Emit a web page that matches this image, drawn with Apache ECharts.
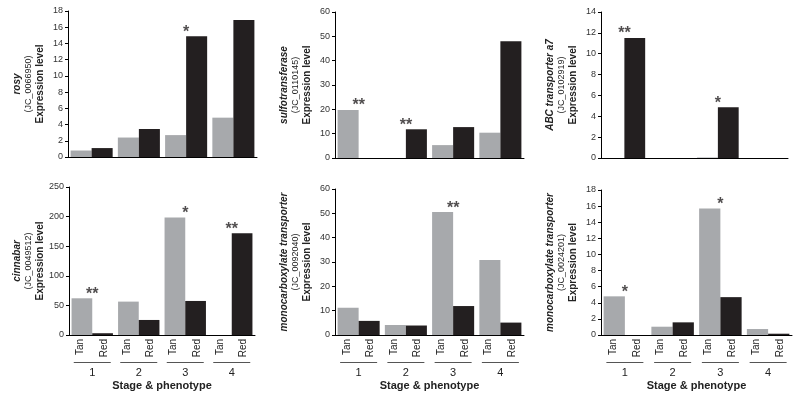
<!DOCTYPE html>
<html>
<head>
<meta charset="utf-8">
<script src="https://cdn.jsdelivr.net/npm/echarts@6/dist/echarts.min.js"></script>
<style>
  html, body { margin: 0; padding: 0; background: #fff; }
  #chart { width: 800px; height: 400px; }
</style>
</head>
<body>
<div id="chart"></div>
<script>
// ---- data ----
const stages = ['1', '2', '3', '4'];
const phenotypes = ['Tan', 'Red', 'Tan', 'Red', 'Tan', 'Red', 'Tan', 'Red'];

const rosyTan = [0.8, 2.4, 2.7, 4.85];
const rosyRed = [1.1, 3.45, 14.9, 16.9];
const rosyStars = ['', '', '*', ''];

const sulfoTan = [19.7, 0, 5.3, 10.4];
const sulfoRed = [0, 11.8, 12.7, 48];
const sulfoStars = ['**', '**', '', ''];

const abcTan = [0, 0, 0.05, 0];
const abcRed = [11.5, 0, 4.86, 0];
const abcStars = ['**', '', '*', ''];

const cinnTan = [62, 56.4, 198.5, 0];
const cinnRed = [3, 25.4, 57.5, 172];
const cinnStars = ['**', '', '*', '**'];

const mctATan = [11.2, 4.1, 50.5, 30.8];
const mctARed = [5.8, 3.9, 11.9, 5.1];
const mctAStars = ['', '', '**', ''];

const mctBTan = [4.8, 1.03, 15.7, 0.74];
const mctBRed = [0, 1.57, 4.7, 0.16];
const mctBStars = ['*', '', '*', ''];

const panels = [
  { gene: 'rosy', id: '(JC_0066950)', tan: rosyTan, red: rosyRed, stars: rosyStars, max: 18, interval: 2, bottom: false,
    grid: { left: 68, top: 11, width: 189, height: 146 } },
  { gene: 'sulfotransferase', id: '(JC_0110145)', tan: sulfoTan, red: sulfoRed, stars: sulfoStars, max: 60, interval: 10, bottom: false,
    grid: { left: 335, top: 12, width: 189, height: 146 } },
  { gene: 'ABC transporter a7', id: '(JC_0102919)', tan: abcTan, red: abcRed, stars: abcStars, max: 14, interval: 2, bottom: false,
    grid: { left: 601, top: 12, width: 187, height: 146 } },
  { gene: 'cinnabar', id: '(JC_0049512)', tan: cinnTan, red: cinnRed, stars: cinnStars, max: 250, interval: 50, bottom: true,
    grid: { left: 69, top: 187, width: 186, height: 148 } },
  { gene: 'monocarboxylate transporter', id: '(JC_0092040)', tan: mctATan, red: mctARed, stars: mctAStars, max: 60, interval: 10, bottom: true,
    grid: { left: 335, top: 189, width: 189, height: 146 } },
  { gene: 'monocarboxylate transporter', id: '(JC_0024201)', tan: mctBTan, red: mctBRed, stars: mctBStars, max: 18, interval: 2, bottom: true,
    grid: { left: 601, top: 190, width: 191, height: 145 } }
];

const TAN = '#a7a9ac';
const RED = '#231f20';
const FONT = 'Liberation Sans';

const option = {
  animation: false,
  backgroundColor: '#fff',
  textStyle: { fontFamily: FONT },
  grid: [], xAxis: [], yAxis: [], series: []
};

panels.forEach((p, k) => {
  option.grid.push(Object.assign({}, p.grid));
  const groupAxisIndex = option.xAxis.length;
  option.xAxis.push({
    type: 'category', gridIndex: k, data: stages, position: 'bottom',
    axisLine: { show: true, lineStyle: { color: '#000', width: 1 } },
    axisTick: { show: false },
    axisLabel: p.bottom ? {
      show: true, margin: 27, interval: 0,
      formatter: v => '{l| }\n{n|' + v + '}',
      rich: {
        l: { width: 37, height: 1, lineHeight: 1, backgroundColor: '#555', fontSize: 1 },
        n: { fontSize: 11, lineHeight: 17, color: '#222', fontFamily: FONT, padding: [2, 0, 0, 0] }
      }
    } : { show: false },
    name: p.bottom ? 'Stage & phenotype' : '',
    nameLocation: 'middle', nameGap: 45,
    nameTextStyle: { fontSize: 11, fontWeight: 'bold', color: '#222', fontFamily: FONT }
  });
  if (p.bottom) {
    option.xAxis.push({
      type: 'category', gridIndex: k, data: phenotypes, position: 'bottom',
      axisLine: { show: false }, axisTick: { show: false }, splitLine: { show: false },
      axisLabel: { show: true, rotate: 90, margin: 4, interval: 0, fontSize: 10, color: '#222', fontFamily: FONT }
    });
  }
  option.yAxis.push({
    type: 'value', gridIndex: k, min: 0, max: p.max, interval: p.interval,
    axisLine: { show: true, lineStyle: { color: '#000', width: 1 } },
    axisTick: { show: true, length: 3, lineStyle: { color: '#000' } },
    splitLine: { show: false },
    axisLabel: { fontSize: 9, color: '#333', margin: 5, fontFamily: FONT },
    name: '{g|' + p.gene + '}\n{i|' + p.id + '}\n{e|Expression level}',
    nameLocation: 'middle', nameRotate: 90, nameGap: 22,
    nameTextStyle: {
      fontFamily: FONT, color: '#222', align: 'center',
      rich: {
        g: { fontStyle: 'italic', fontWeight: 'bold', fontSize: 10, lineHeight: 12, color: '#222', fontFamily: FONT },
        i: { fontSize: 9, lineHeight: 11, color: '#222', fontFamily: FONT },
        e: { fontWeight: 'bold', fontSize: 10, lineHeight: 12, color: '#222', fontFamily: FONT }
      }
    }
  });
  const common = { type: 'bar', xAxisIndex: groupAxisIndex, yAxisIndex: k, barGap: '0%', barCategoryGap: '11%' };
  option.series.push(Object.assign({ name: 'Tan', data: p.tan, itemStyle: { color: TAN } }, common));
  option.series.push(Object.assign({ name: 'Red', data: p.red, itemStyle: { color: RED } }, common));
  const starData = [];
  p.stars.forEach((s, i) => {
    if (s) starData.push({ value: [i, Math.max(p.tan[i], p.red[i])], star: s });
  });
  option.series.push({
    type: 'scatter', xAxisIndex: groupAxisIndex, yAxisIndex: k,
    symbolSize: 0, data: starData, silent: true,
    label: {
      show: true, position: 'top', distance: -4,
      formatter: prm => prm.data.star,
      fontSize: 16, fontWeight: 'bold', color: RED, fontFamily: FONT
    }
  });
});

const chart = echarts.init(document.getElementById('chart'), null, { renderer: 'canvas' });
chart.setOption(option);
</script>
</body>
</html>
